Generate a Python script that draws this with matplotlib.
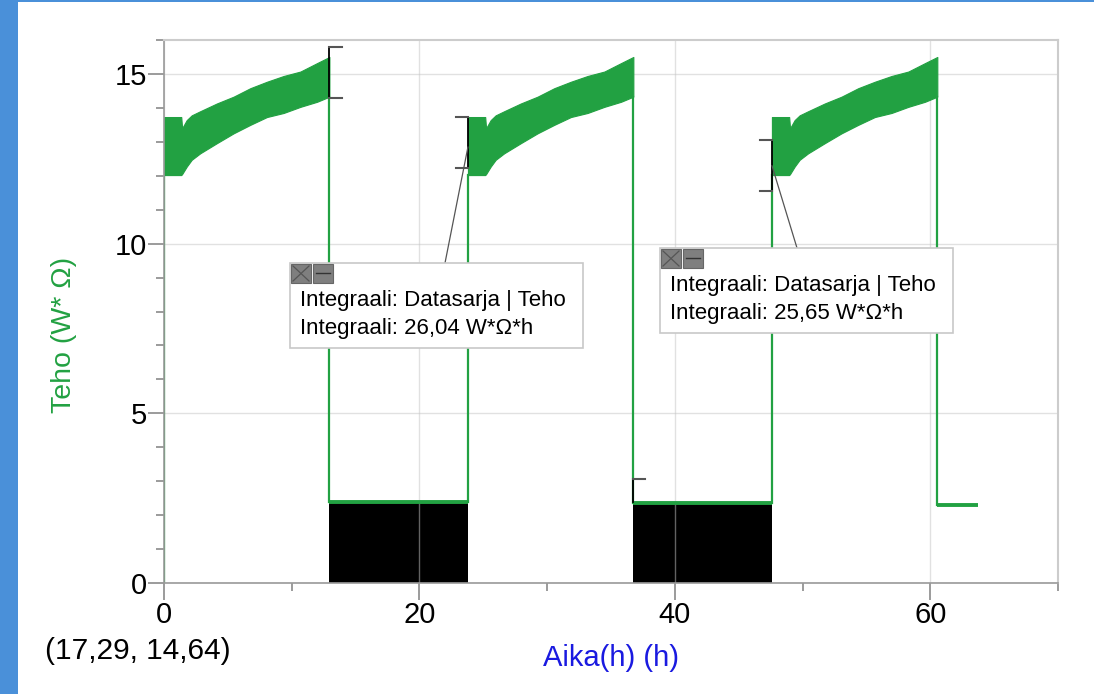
import matplotlib
matplotlib.use("Agg")
import matplotlib.pyplot as plt
import numpy as np
from matplotlib.patches import Rectangle, ConnectionPatch
from matplotlib.transforms import Affine2D

plt.rcParams['font.family'] = ['Liberation Sans', 'DejaVu Sans']

# --- data -------------------------------------------------------------
# heating cycles: start / stop of the high-power phase (h)
cycle_start = [0.0, 23.8, 47.6]
cycle_stop = [12.95, 36.75, 60.55]
series_end = 63.7

# oscillating high-power band, hours since cycle start
band_t = [0.0, 1.35, 1.42, 1.78, 2.17, 2.83, 4.14, 5.45, 6.76, 8.06, 9.37, 10.68, 11.99, 12.95]
band_upper = [13.73, 13.73, 13.40, 13.64, 13.78, 13.90, 14.13, 14.33, 14.58, 14.77, 14.94, 15.07, 15.32, 15.50]
band_lower = [12.02, 12.02, 12.05, 12.27, 12.47, 12.66, 12.96, 13.25, 13.50, 13.73, 13.85, 14.03, 14.18, 14.33]

# integrals over the low-power phases (W*Ohm*h)
integral_values = [26.04, 25.65]
tail_level = 2.30

# range markers: time, top, bottom, tick direction
marker_t = [12.95, 23.8, 36.75, 47.6]
marker_top = [15.80, 13.73, 3.06, 13.06]
marker_bottom = [14.30, 12.23, 2.40, 11.55]
marker_dir = [1, -1, 1, -1]

x_ticks = [0, 20, 40, 60]
y_ticks = [0, 5, 10, 15]
cursor_text = "(17,29, 14,64)"

GREEN = '#22a142'
W, H = 1094, 694

fig = plt.figure(figsize=(W / 100, H / 100), dpi=100)
fig.patch.set_facecolor('white')

# window frame strips
fig.add_artist(Rectangle((0, 0), 18 / W, 1, transform=fig.transFigure,
                         color='#4a90d9', lw=0, zorder=0))
fig.add_artist(Rectangle((0, 1 - 2 / H), 1, 2 / H, transform=fig.transFigure,
                         color='#4a90d9', lw=0, zorder=0))

ax = fig.add_axes([164 / W, 1 - 583 / H, (1058 - 164) / W, (583 - 40) / H])
ax.set_xlim(0, 70)
ax.set_ylim(0, 16)

# pixel coordinates from top-left corner of the figure
px = Affine2D().scale(1 / W, -1 / H).translate(0, 1) + fig.transFigure

# low-power levels derived from the integrals
low_levels = [integral_values[i] / (cycle_start[i + 1] - cycle_stop[i]) for i in range(2)]

# black integral areas
for i in range(2):
    ax.fill_between([cycle_stop[i], cycle_start[i + 1]], 0, low_levels[i],
                    color='black', lw=0, zorder=0.3)

# green trace: high-power bands
bt = np.array(band_t)
for i, s in enumerate(cycle_start):
    ax.fill_between(bt + s, band_lower, band_upper, color=GREEN, lw=0.8,
                    edgecolor=GREEN, zorder=2)

# green trace: switching edges and low-power plateaus
ax.plot([0.0, 0.0], [0.0, band_lower[0]], color=GREEN, lw=1.6, zorder=2)
for i in range(3):
    lvl = low_levels[i] if i < 2 else tail_level
    end = cycle_start[i + 1] if i < 2 else series_end
    ax.plot([cycle_stop[i], cycle_stop[i]], [band_lower[-1], lvl],
            color=GREEN, lw=1.6, zorder=2)
    ax.plot([cycle_stop[i], end], [lvl, lvl], color=GREEN, lw=2.8, zorder=2,
            solid_capstyle='butt')
    if i < 2:
        ax.plot([end, end], [lvl, band_lower[0]], color=GREEN, lw=1.6, zorder=2)

# range markers
tick_len = 0.95
for k, (t, top, bot, d) in enumerate(zip(marker_t, marker_top, marker_bottom, marker_dir)):
    ax.plot([t, t], [bot, top], color='black', lw=1.3, zorder=3)
    ax.plot([t, t + d * tick_len], [top, top], color='#555555', lw=1.5, zorder=3)
    if k != 2:
        ax.plot([t, t + d * tick_len], [bot, bot], color='#555555', lw=1.5, zorder=3)

# axes styling
ax.set_axisbelow(True)
ax.set_xticks(x_ticks)
ax.set_xticks(range(10, 71, 20), minor=True)
ax.set_yticks(y_ticks)
ax.set_yticks(range(0, 17), minor=True)
ax.grid(True, which='major', color='#c4c4c4', alpha=0.5, lw=1.0)
for sp in ['left', 'bottom']:
    ax.spines[sp].set_color('#9a9a9a')
    ax.spines[sp].set_linewidth(1.2)
for sp in ['top', 'right']:
    ax.spines[sp].set_color('#cccccc')
    ax.spines[sp].set_linewidth(1.5)
ax.tick_params(which='major', axis='x', length=12, width=1.2, color='#8a8a8a',
               labelsize=21, pad=1)
ax.tick_params(which='major', axis='y', length=11.5, width=1.2, color='#8a8a8a',
               labelsize=21, pad=1)
ax.tick_params(which='minor', length=6, width=1.2, color='#8a8a8a')

ax.set_ylabel('Teho (W* Ω)', color=GREEN, fontsize=20.5)
ax.yaxis.set_label_coords((64 - 164) / 894, (583 - 335) / 543)
ax.set_xlabel('Aika(h) (h)', color='#1a1ae0', fontsize=21)
ax.xaxis.set_label_coords((611 - 164) / 894, (583 - 658) / 543)
ax.xaxis.label.set_va('center')
ax.yaxis.label.set_va('center')

fig.text(45 / W, 1 - 651 / H, cursor_text, fontsize=21.5, va='center', ha='left')

# integral info boxes
boxes = [
    dict(x=290, y=263, w=293, h=85, value=integral_values[0], anchor=(445, 263),
         src=(marker_t[1], 12.85)),
    dict(x=660, y=248, w=293, h=85, value=integral_values[1], anchor=(797, 248),
         src=(marker_t[3], 12.30)),
]
for b in boxes:
    con = ConnectionPatch(xyA=b['src'], coordsA=ax.transData,
                          xyB=b['anchor'], coordsB=px,
                          color='#555555', lw=0.9, zorder=4)
    fig.add_artist(con)
    fig.add_artist(Rectangle((b['x'], b['y'] + b['h']), b['w'], -b['h'],
                             transform=px, facecolor='white',
                             edgecolor='#c8c8c8', lw=1.2, zorder=5))
    # close / minimise icons
    for k in range(2):
        ix = b['x'] + 1 + k * 22
        fig.add_artist(Rectangle((ix, b['y'] + 20), 20, -19, transform=px,
                                 facecolor='#7f7f7f', edgecolor='#666666',
                                 lw=0.8, zorder=6))
    x0 = b['x'] + 1
    fig.add_artist(plt.Line2D([x0 + 2, x0 + 18], [b['y'] + 3, b['y'] + 18],
                              transform=px, color='#555555', lw=0.9, zorder=7))
    fig.add_artist(plt.Line2D([x0 + 2, x0 + 18], [b['y'] + 18, b['y'] + 3],
                              transform=px, color='#555555', lw=0.9, zorder=7))
    fig.add_artist(plt.Line2D([x0 + 25, x0 + 39], [b['y'] + 10.5, b['y'] + 10.5],
                              transform=px, color='#333333', lw=1.0, zorder=7))
    val = f"{b['value']:.2f}".replace('.', ',')
    fig.text(b['x'] + 10, b['y'] + 38, 'Integraali: Datasarja | Teho',
             transform=px, fontsize=16, va='center', ha='left', zorder=8)
    fig.text(b['x'] + 10, b['y'] + 66, f'Integraali: {val} W*Ω*h',
             transform=px, fontsize=16, va='center', ha='left', zorder=8)

fig.savefig('out.png', dpi=100)
